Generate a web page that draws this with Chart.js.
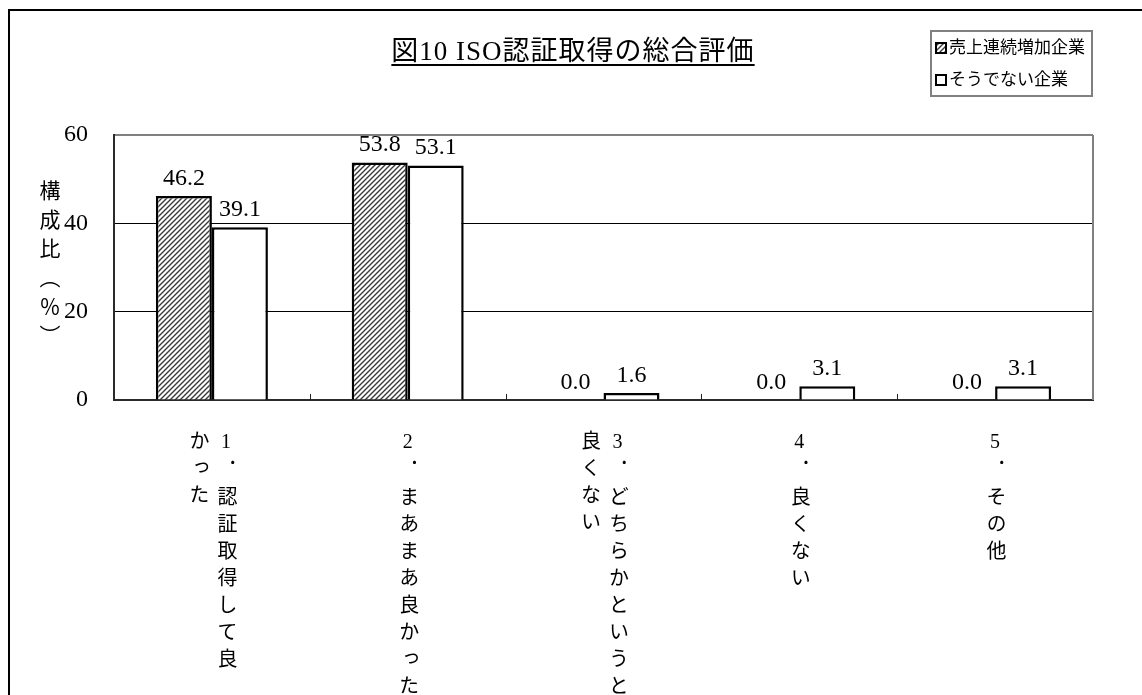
<!DOCTYPE html>
<html lang="ja">
<head>
<meta charset="utf-8">
<title>図10 ISO認証取得の総合評価</title>
<script src="https://cdn.jsdelivr.net/npm/chart.js@4.4.1/dist/chart.umd.min.js"></script>
<style>
    html, body { margin: 0; padding: 0; background: #fff; overflow: hidden; }
    body { width: 1142px; height: 695px; position: relative; font-family: 'Liberation Serif', 'Noto Sans CJK JP', serif; }
    #frame { position: absolute; left: 8px; top: 9px; width: 1200px; height: 800px; border: 2px solid #000; box-sizing: border-box; }
    #chart { position: absolute; left: 0; top: 0; }
    #title { position: absolute; top: 29px; left: 0; width: 1146px; text-align: center; font-size: 27px; letter-spacing: 1px; color: #000; }
    #title span { text-decoration: underline; text-underline-offset: 4px; text-decoration-thickness: 2px; }
    #legend { position: absolute; left: 930px; top: 30px; width: 163px; height: 67px; border: 2px solid #808080; box-sizing: border-box; background: #fff; }
    .legend-item { position: absolute; left: 3px; font-size: 17px; line-height: 22px; white-space: nowrap; color: #000; }
    .legend-item canvas { display: inline-block; vertical-align: -1px; margin-right: 2px; }
    #yTitle { position: absolute; left: 36px; top: 180px; writing-mode: vertical-rl; font-size: 21px; letter-spacing: 8px; line-height: 24px; color: #000; }
    .x-label { position: absolute; top: 430px; writing-mode: vertical-rl; text-orientation: upright; font-size: 20px; letter-spacing: 7px; line-height: 28px; white-space: pre; color: #000; }
</style>
</head>
<body>
<div id="frame"></div>
<canvas id="chart" width="1142" height="695"></canvas>
<div id="title"><span>図10 ISO認証取得の総合評価</span></div>
<div id="legend"></div>
<div id="yTitle">構成比（％）</div>

<script>
// Category labels, one string per vertical column (right column first)
const categories = [
    ['1．認証取得して良', 'かった'],
    ['2．まあまあ良かった'],
    ['3．どちらかというと', '良くない'],
    ['4．良くない'],
    ['5．その他']
];

const seriesNames = ['売上連続増加企業', 'そうでない企業'];

// Values (%)
const increasingValues = [46.2, 53.8, 0.0, 0.0, 0.0];
const otherValues = [39.1, 53.1, 1.6, 3.1, 3.1];

const yTicks = [0, 20, 40, 60];

/**
 * Diagonal hatch pattern like the original bars
 */
function makeHatch(ctx) {
    const s = 5;
    const tile = document.createElement('canvas');
    tile.width = s;
    tile.height = s;
    const t = tile.getContext('2d');
    t.fillStyle = '#fff';
    t.fillRect(0, 0, s, s);
    t.strokeStyle = '#3a3a3a';
    t.lineWidth = 1.4;
    t.beginPath();
    t.moveTo(-1, s + 1); t.lineTo(s + 1, -1);
    t.moveTo(-2, 2); t.lineTo(2, -2);
    t.moveTo(s - 2, s + 2); t.lineTo(s + 2, s - 2);
    t.stroke();
    return ctx.createPattern(tile, 'repeat');
}

const ctx = document.getElementById('chart').getContext('2d');
const hatch = makeHatch(ctx);

// Draws value labels above each bar
const valueLabels = {
    id: 'valueLabels',
    afterDatasetsDraw(chart) {
        const c = chart.ctx;
        c.save();
        c.font = '24px "Liberation Serif", serif';
        c.fillStyle = '#000';
        c.textAlign = 'center';
        c.textBaseline = 'alphabetic';
        chart.data.datasets.forEach((ds, di) => {
            chart.getDatasetMeta(di).data.forEach((bar, i) => {
                c.fillText(ds.data[i].toFixed(1), bar.x, bar.y - 11);
            });
        });
        c.restore();
    }
};

// Plot frame (grey right side), category tick marks and vertical x labels
const frameAndLabels = {
    id: 'frameAndLabels',
    afterDraw(chart) {
        const a = chart.chartArea;
        const x = chart.scales.x;
        const c = chart.ctx;
        c.save();
        c.strokeStyle = '#808080';
        c.lineWidth = 2;
        c.beginPath();
        c.moveTo(a.right, a.top);
        c.lineTo(a.right, a.bottom);
        c.stroke();
        c.strokeStyle = '#222';
        c.lineWidth = 1;
        for (let i = 1; i < categories.length; i++) {
            const px = Math.round((x.getPixelForValue(i - 1) + x.getPixelForValue(i)) / 2) + 0.5;
            c.beginPath();
            c.moveTo(px, a.bottom);
            c.lineTo(px, a.bottom - 6);
            c.stroke();
        }
        c.restore();

        document.querySelectorAll('.x-label').forEach(el => el.remove());
        categories.forEach((cols, i) => {
            const el = document.createElement('div');
            el.className = 'x-label';
            el.textContent = cols.join('\n');
            document.body.appendChild(el);
            const w = el.getBoundingClientRect().width;
            el.style.left = (x.getPixelForValue(i) - w / 2) + 'px';
        });
    }
};

const chart = new Chart(ctx, {
    type: 'bar',
    data: {
        labels: categories.map(c => c.join('')),
        datasets: [
            {
                label: seriesNames[0],
                data: increasingValues,
                backgroundColor: hatch,
                borderColor: '#000',
                borderWidth: 2.5,
                categoryPercentage: 0.572,
                barPercentage: 1
            },
            {
                label: seriesNames[1],
                data: otherValues,
                backgroundColor: '#fff',
                borderColor: '#000',
                borderWidth: 2.5,
                categoryPercentage: 0.572,
                barPercentage: 1
            }
        ]
    },
    options: {
        responsive: false,
        animation: false,
        devicePixelRatio: 1,
        layout: {
            padding: { top: 135, right: 49, left: 0, bottom: 0 }
        },
        plugins: {
            legend: { display: false },
            title: { display: false },
            tooltip: { enabled: false }
        },
        scales: {
            x: {
                ticks: { display: false },
                grid: { display: false },
                border: { display: true, color: '#2a2a2a', width: 2 },
                afterFit: function(scale) { scale.height = 295; }
            },
            y: {
                min: 0,
                max: 60,
                afterBuildTicks: function(scale) {
                    scale.ticks = yTicks.map(v => ({ value: v }));
                },
                ticks: {
                    padding: 26,
                    color: '#000',
                    font: { family: '"Liberation Serif", serif', size: 24 }
                },
                grid: {
                    drawTicks: false,
                    color: function(context) {
                        if (context.tick.value === 60) return '#808080';
                        if (context.tick.value === 0) return 'rgba(0,0,0,0)';
                        return '#000';
                    },
                    lineWidth: function(context) {
                        return context.tick.value === 60 ? 2 : 1;
                    }
                },
                border: { display: true, color: '#2a2a2a', width: 2 },
                afterFit: function(scale) { scale.width = 114; }
            }
        }
    },
    plugins: [valueLabels, frameAndLabels]
});

// HTML legend built from the datasets
const legendBox = document.getElementById('legend');
chart.data.datasets.forEach((ds, i) => {
    const item = document.createElement('div');
    item.className = 'legend-item';
    item.style.top = (i === 0 ? 5 : 37) + 'px';
    const sw = document.createElement('canvas');
    sw.width = 12;
    sw.height = 12;
    const sctx = sw.getContext('2d');
    sctx.fillStyle = i === 0 ? makeHatch(sctx) : '#fff';
    sctx.fillRect(0, 0, 12, 12);
    sctx.strokeStyle = '#000';
    sctx.lineWidth = 2;
    sctx.strokeRect(1, 1, 10, 10);
    item.appendChild(sw);
    item.appendChild(document.createTextNode(ds.label));
    legendBox.appendChild(item);
});
</script>
</body>
</html>
